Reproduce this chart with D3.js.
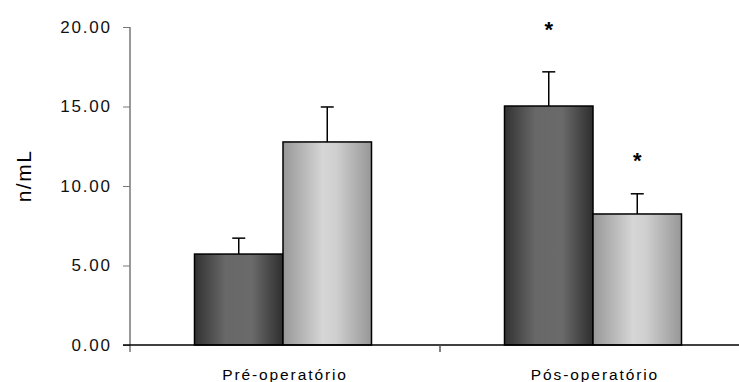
<!DOCTYPE html>
<html>
<head>
<meta charset="utf-8">
<script src="https://cdn.jsdelivr.net/npm/d3@7.9.0/dist/d3.min.js"></script>
<style>
  body { margin: 0; background: #fff; }
  svg { display: block; font-family: Arial, "Liberation Sans", sans-serif; }
</style>
</head>
<body>
<svg id="chart" width="739" height="382"></svg>
<script>
// data
const categories = ['Pré-operatório', 'Pós-operatório'];
const seriesNames = ['a', 'b'];
const means = [[5.72, 12.77], [15.03, 8.24]];
const errors = [[1.0, 2.2], [2.15, 1.27]];
// asterisk heights (in n/mL), null = no mark
const stars = [[null, null], [20.2, 11.95]];
const yTicks = [0, 5, 10, 15, 20];

const svg = d3.select('#chart');
const x0 = 130, yBase = 345, yTop = 27;

const x = d3.scaleBand().domain(categories).range([128, 748]);
const xs = d3.scaleBand().domain(seriesNames).range([0, 177]);
const y = d3.scaleLinear().domain([0, 20]).range([yBase, yTop]);

// gradients
const defs = svg.append('defs');
const grads = {
  a: [['0%', '#323232'], ['35%', '#686868'], ['65%', '#6a6a6a'], ['100%', '#2e2e2e']],
  b: [['0%', '#979797'], ['45%', '#d6d6d6'], ['60%', '#cfcfcf'], ['100%', '#979797']]
};
Object.entries(grads).forEach(([k, stops]) => {
  const g = defs.append('linearGradient').attr('id', 'g' + k)
    .attr('x1', '0%').attr('x2', '100%').attr('y1', '0%').attr('y2', '0%');
  stops.forEach(([o, c]) => g.append('stop').attr('offset', o).attr('stop-color', c));
});

// y axis
const yAxis = d3.axisLeft(y).tickValues(yTicks).tickSize(7).tickPadding(13)
  .tickFormat(d3.format('.2f'));
const gy = svg.append('g').attr('transform', `translate(${x0},0)`).call(yAxis)
  .attr('font-size', 17).attr('font-family', 'Arial, "Liberation Sans", sans-serif');
gy.select('.domain').remove();
gy.selectAll('.tick line').attr('stroke', '#777');
gy.selectAll('text').attr('letter-spacing', 1.8).attr('fill', '#111').attr('dx', 1.8);
svg.append('line').attr('x1', x0).attr('x2', x0).attr('y1', yTop).attr('y2', yBase + 7)
  .attr('stroke', '#777').attr('stroke-width', 1.5);

// y label
svg.append('text').attr('transform', `translate(31,176) rotate(-90)`)
  .attr('text-anchor', 'middle').attr('font-size', 21).attr('letter-spacing', 1.5).text('n/mL');

// bars
const groups = svg.append('g').selectAll('g').data(categories).join('g')
  .attr('transform', d => `translate(${x(d) + (x.bandwidth() - xs.range()[1]) / 2},0)`);

groups.each(function (cat, ci) {
  const g = d3.select(this);
  seriesNames.forEach((s, si) => {
    const v = means[ci][si], e = errors[ci][si];
    const bx = xs(s), bw = xs.bandwidth(), cx = bx + bw / 2;
    // error bar
    g.append('line').attr('x1', cx).attr('x2', cx).attr('y1', y(v)).attr('y2', y(v + e))
      .attr('stroke', '#000').attr('stroke-width', 1.5);
    g.append('line').attr('x1', cx - 6.5).attr('x2', cx + 6.5).attr('y1', y(v + e)).attr('y2', y(v + e))
      .attr('stroke', '#000').attr('stroke-width', 1.5);
    g.append('rect').attr('x', bx).attr('y', y(v)).attr('width', bw).attr('height', yBase - y(v))
      .attr('fill', `url(#g${s})`).attr('stroke', '#000').attr('stroke-width', 1.5);
    if (stars[ci][si] != null) {
      g.append('text').attr('x', cx).attr('y', y(stars[ci][si])).attr('dy', 13)
        .attr('text-anchor', 'middle').attr('font-size', 22).attr('font-weight', 'bold').text('*');
    }
  });
});

// x axis
svg.append('line').attr('x1', x0 - 7).attr('x2', 739).attr('y1', yBase).attr('y2', yBase)
  .attr('stroke', '#000').attr('stroke-width', 1.5);
svg.append('line').attr('x1', 440).attr('x2', 440)
  .attr('y1', yBase).attr('y2', yBase + 7).attr('stroke', '#555').attr('stroke-width', 1.5);
svg.append('g').selectAll('text').data(categories).join('text')
  .attr('x', d => x(d) + x.bandwidth() / 2 + 2).attr('y', 380)
  .attr('text-anchor', 'middle').attr('font-size', 15.5).attr('letter-spacing', 1.9).text(d => d);
</script>
</body>
</html>
